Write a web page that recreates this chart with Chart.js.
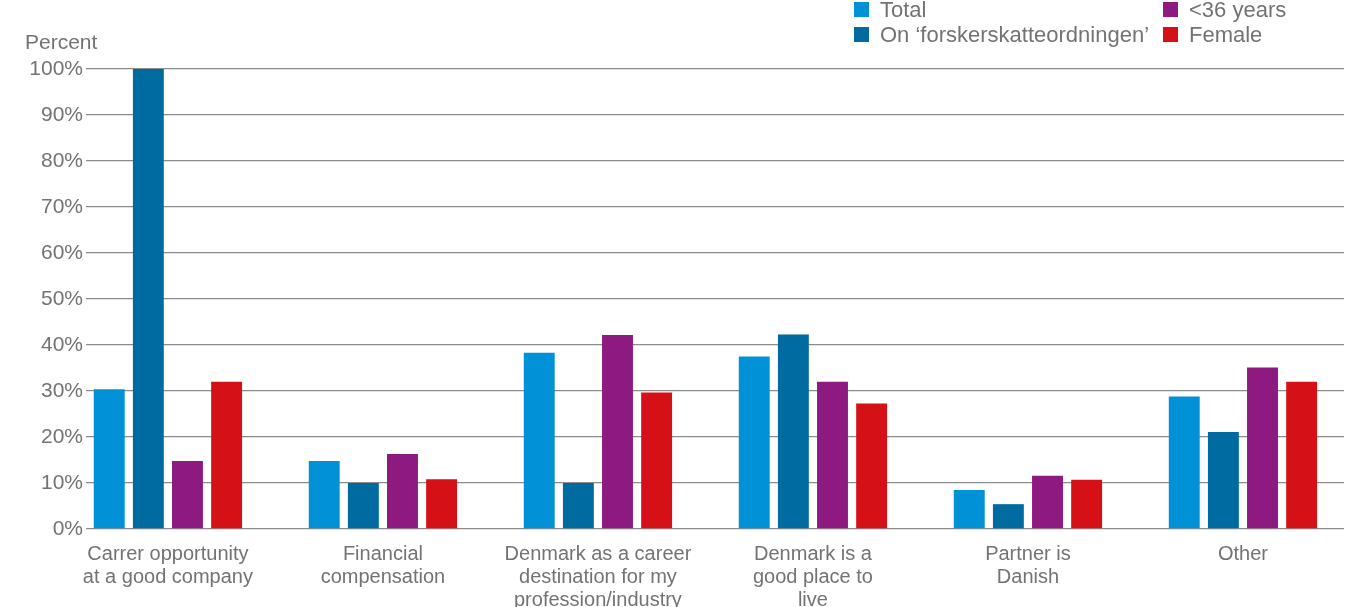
<!DOCTYPE html>
<html>
<head>
<meta charset="utf-8">
<script src="https://cdn.jsdelivr.net/npm/chart.js@4.4.1/dist/chart.umd.min.js"></script>
<style>
    html, body { margin: 0; padding: 0; background: #fff; }
    #wrap { width: 1352px; height: 607px; position: relative; }
</style>
</head>
<body>
<div id="wrap"><canvas id="reasons"></canvas></div>
<script>
// Reasons for choosing Denmark, share of respondents per group
const categories = [
    ['Carrer opportunity', 'at a good company'],
    ['Financial', 'compensation'],
    ['Denmark as a career', 'destination for my', 'profession/industry'],
    ['Denmark is a', 'good place to', 'live'],
    ['Partner is', 'Danish'],
    ['Other']
];
const seriesNames = ['Total', 'On \u2018forskerskatteordningen\u2019', '<36 years', 'Female'];
const totalValues = [30.4, 14.8, 38.3, 37.5, 8.5, 28.8];
const forskerValues = [100, 10, 10, 42.3, 5.4, 21.1];
const under36Values = [14.8, 16.3, 42.2, 32, 11.6, 35.1];
const femaleValues = [32, 10.8, 29.7, 27.3, 10.7, 32];
const yTicks = [0, 10, 20, 30, 40, 50, 60, 70, 80, 90, 100];

const colors = ['#0091d6', '#006ba0', '#8c1a80', '#d51016'];
const textGray = '#737373';
const fontFamily = '"Liberation Sans", Helvetica, Arial, sans-serif';

function toPoints(values) {
    return values.map((v, i) => ({ x: i, y: v }));
}

const seriesValues = [totalValues, forskerValues, under36Values, femaleValues];

// legend in two columns plus the "Percent" unit label, drawn on the canvas
const extrasPlugin = {
    id: 'extras',
    afterDraw(chart) {
        const ctx = chart.ctx;
        ctx.save();
        ctx.font = '21px ' + fontFamily;
        ctx.fillStyle = textGray;
        ctx.textAlign = 'left';
        ctx.textBaseline = 'middle';
        ctx.fillText('Percent', 25, 43);

        ctx.font = '22px ' + fontFamily;
        chart.data.datasets.forEach((ds, i) => {
            const col = Math.floor(i / 2);
            const row = i % 2;
            const sx = col === 0 ? 854 : 1163;
            const sy = row === 0 ? 2 : 27;
            ctx.fillStyle = ds.backgroundColor;
            ctx.fillRect(sx, sy, 15, 15);
            ctx.fillStyle = textGray;
            ctx.fillText(ds.label, sx + 26, sy + 9);
        });
        ctx.restore();
    }
};

new Chart(document.getElementById('reasons'), {
    type: 'bar',
    data: {
        datasets: seriesNames.map((name, i) => ({
            label: name,
            data: toPoints(seriesValues[i]),
            backgroundColor: colors[i],
            borderWidth: 0,
            categoryPercentage: 0.728,
            barPercentage: 0.79
        }))
    },
    options: {
        responsive: true,
        maintainAspectRatio: false,
        animation: false,
        layout: { padding: { top: 69, right: 8, left: 0, bottom: 0 } },
        plugins: {
            legend: { display: false },
            tooltip: { enabled: false }
        },
        scales: {
            x: {
                type: 'linear',
                offset: false,
                min: -0.381,
                max: 5.47,
                grid: { display: false },
                border: { display: false },
                afterBuildTicks(scale) {
                    scale.ticks = categories.map((c, i) => ({ value: i }));
                },
                afterFit(scale) {
                    scale.height = 78;
                },
                ticks: {
                    autoSkip: false,
                    maxRotation: 0,
                    padding: 6,
                    color: textGray,
                    font: { family: fontFamily, size: 20, lineHeight: 1.15 },
                    callback: (value) => categories[value]
                }
            },
            y: {
                min: 0,
                max: 100,
                afterBuildTicks(scale) {
                    scale.ticks = yTicks.map(v => ({ value: v }));
                },
                afterFit(scale) {
                    scale.width = 86;
                },
                grid: {
                    color: '#8c8c8c',
                    lineWidth: 1.3,
                    drawTicks: false
                },
                border: { display: false },
                ticks: {
                    padding: 3,
                    color: textGray,
                    font: { family: fontFamily, size: 21 },
                    callback: (value) => value + '%'
                }
            }
        }
    },
    plugins: [extrasPlugin]
});
</script>
</body>
</html>
